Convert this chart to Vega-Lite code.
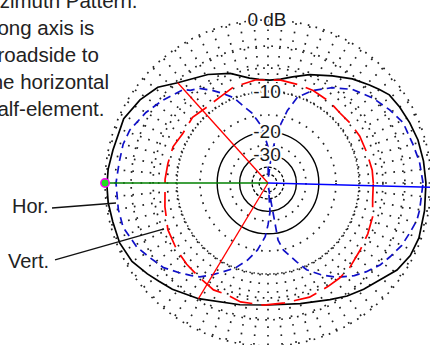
{
  "$schema": "https://vega.github.io/schema/vega-lite/v6.json",
  "width": 430,
  "height": 345,
  "autosize": {"type": "none"},
  "padding": 0,
  "background": "#ffffff",
  "config": {"view": {"stroke": null}, "font": "Liberation Sans"},
  "datasets": {
    "rings_sparse": [{"db": 0}, {"db": -3}, {"db": -6}, {"db": -15}, {"db": -25}],
    "rings_dense": [{"db": -10}],
    "rings_solid": [{"db": -20}, {"db": -30}],
    "rings_inner": [{"db": -40}, {"db": -50}],
    "spokes": [
      {"az": 0}, {"az": 5}, {"az": 10}, {"az": 15}, {"az": 20}, {"az": 25}, {"az": 30}, {"az": 35}, {"az": 40}, {"az": 45}, {"az": 50}, {"az": 55},
      {"az": 60}, {"az": 65}, {"az": 70}, {"az": 75}, {"az": 80}, {"az": 85}, {"az": 90}, {"az": 95}, {"az": 100}, {"az": 105}, {"az": 110}, {"az": 115},
      {"az": 120}, {"az": 125}, {"az": 130}, {"az": 135}, {"az": 140}, {"az": 145}, {"az": 150}, {"az": 155}, {"az": 160}, {"az": 165}, {"az": 170}, {"az": 175},
      {"az": 180}, {"az": 185}, {"az": 190}, {"az": 195}, {"az": 200}, {"az": 205}, {"az": 210}, {"az": 215}, {"az": 220}, {"az": 225}, {"az": 230}, {"az": 235},
      {"az": 240}, {"az": 245}, {"az": 250}, {"az": 255}, {"az": 260}, {"az": 265}, {"az": 270}, {"az": 275}, {"az": 280}, {"az": 285}, {"az": 290}, {"az": 295},
      {"az": 300}, {"az": 305}, {"az": 310}, {"az": 315}, {"az": 320}, {"az": 325}, {"az": 330}, {"az": 335}, {"az": 340}, {"az": 345}, {"az": 350}, {"az": 355}
    ],
    "total": [
      {"az": 0, "db": -0.54}, {"az": 8, "db": -0.64}, {"az": 16, "db": -0.75}, {"az": 23, "db": -0.97}, {"az": 30, "db": -1.2},
      {"az": 36, "db": -1.43}, {"az": 40, "db": -1.95}, {"az": 44, "db": -2.49}, {"az": 51, "db": -3.36}, {"az": 59, "db": -4.56},
      {"az": 69, "db": -5.84}, {"az": 77, "db": -6.91}, {"az": 83, "db": -7.6}, {"az": 89, "db": -7.88}, {"az": 95, "db": -7.7},
      {"az": 100, "db": -7.3}, {"az": 109, "db": -5.84}, {"az": 119, "db": -4.69}, {"az": 132, "db": -3.24}, {"az": 139, "db": -1.89},
      {"az": 147, "db": -1.13}, {"az": 156, "db": -0.54}, {"az": 168, "db": -0.48}, {"az": 175, "db": -0.27}, {"az": 181, "db": -0.2},
      {"az": 187, "db": -0.21}, {"az": 194, "db": -0.32}, {"az": 202, "db": -0.32}, {"az": 210, "db": -0.64}, {"az": 217, "db": -1.31},
      {"az": 222, "db": -1.8}, {"az": 228, "db": -2.25}, {"az": 239, "db": -3.24}, {"az": 257, "db": -4.56}, {"az": 270, "db": -4.97},
      {"az": 285, "db": -4.56}, {"az": 298, "db": -3.62}, {"az": 305, "db": -2.86}, {"az": 312, "db": -2.25}, {"az": 319, "db": -1.66},
      {"az": 326, "db": -0.8}, {"az": 333, "db": -0.35}, {"az": 340, "db": -0.25}, {"az": 350, "db": -0.43}, {"az": 360, "db": -0.54}
    ],
    "horizontal": [
      {"az": 0, "db": -0.86}, {"az": 8, "db": -1.09}, {"az": 15, "db": -1.43}, {"az": 24, "db": -1.66}, {"az": 31, "db": -2.37},
      {"az": 39, "db": -3.24}, {"az": 48, "db": -4.42}, {"az": 56, "db": -5.99}, {"az": 64, "db": -7.88}, {"az": 71, "db": -10.0},
      {"az": 75, "db": -13.3}, {"az": 79, "db": -18.6}, {"az": 83, "db": -29.0}, {"az": 87, "db": -60}, {"az": 90, "db": -25.9},
      {"az": 93.7, "db": -21.7}, {"az": 96, "db": -18.3}, {"az": 100, "db": -16.0}, {"az": 103, "db": -14.0}, {"az": 107, "db": -12.4},
      {"az": 112, "db": -9.8}, {"az": 117, "db": -8.28}, {"az": 121, "db": -7.06}, {"az": 126, "db": -5.69}, {"az": 130, "db": -5.11},
      {"az": 132, "db": -4.42}, {"az": 142, "db": -3.36}, {"az": 150, "db": -2.49}, {"az": 159, "db": -1.66}, {"az": 165, "db": -1.43},
      {"az": 172, "db": -1.4}, {"az": 180, "db": -1.2}, {"az": 190, "db": -1.2}, {"az": 197, "db": -1.26}, {"az": 206, "db": -1.89},
      {"az": 212, "db": -2.61}, {"az": 219, "db": -3.3}, {"az": 225, "db": -4.34}, {"az": 230, "db": -5.17}, {"az": 234, "db": -5.84},
      {"az": 239, "db": -7.23}, {"az": 243, "db": -8.44}, {"az": 249, "db": -10.0}, {"az": 255, "db": -12.2}, {"az": 261, "db": -15.0},
      {"az": 267, "db": -19.0}, {"az": 270, "db": -23.3}, {"az": 274, "db": -29.6}, {"az": 276.5, "db": -60}, {"az": 280, "db": -17.7},
      {"az": 283, "db": -14.75}, {"az": 290, "db": -11.4}, {"az": 294, "db": -9.27}, {"az": 300, "db": -7.39}, {"az": 306, "db": -5.75},
      {"az": 313, "db": -4.34}, {"az": 318, "db": -3.55}, {"az": 324, "db": -2.73}, {"az": 329, "db": -2.28}, {"az": 335, "db": -1.7},
      {"az": 341, "db": -1.37}, {"az": 346, "db": -1.03}, {"az": 350, "db": -0.97}, {"az": 360, "db": -0.86}
    ],
    "vertical": [
      {"az": 0, "db": -7.5}, {"az": 7, "db": -7.55}, {"az": 17, "db": -7.81}, {"az": 27, "db": -7.88}, {"az": 36, "db": -8.11},
      {"az": 44, "db": -8.32}, {"az": 53, "db": -8.05}, {"az": 64, "db": -7.88}, {"az": 72, "db": -7.88}, {"az": 83, "db": -7.76},
      {"az": 97, "db": -7.75}, {"az": 110, "db": -8.05}, {"az": 119, "db": -8.65}, {"az": 129, "db": -8.82}, {"az": 139, "db": -8.39},
      {"az": 150, "db": -8.63}, {"az": 159, "db": -8.11}, {"az": 169, "db": -8.05}, {"az": 178, "db": -7.88}, {"az": 193, "db": -7.42},
      {"az": 205, "db": -6.67}, {"az": 216, "db": -6.29}, {"az": 225, "db": -5.99}, {"az": 234, "db": -5.72}, {"az": 243, "db": -5.26},
      {"az": 250, "db": -5.4}, {"az": 257, "db": -4.97}, {"az": 268, "db": -4.95}, {"az": 278, "db": -5.11}, {"az": 290, "db": -5.04},
      {"az": 300, "db": -5.31}, {"az": 307, "db": -5.4}, {"az": 314, "db": -5.6}, {"az": 324, "db": -6.14}, {"az": 333, "db": -6.44},
      {"az": 342, "db": -6.75}, {"az": 351, "db": -7.39}, {"az": 360, "db": -7.5}
    ],
    "beamwidth": [{"az": 132, "db": -3.24}, {"az": 239, "db": -3.24}],
    "peak": [{"az": 180, "db": 0}],
    "back": [{"az": 358.5, "db": 0}],
    "ring_labels": [
      {"db": 0, "label": "0 dB"},
      {"db": -10, "label": "-10"},
      {"db": -20, "label": "-20"},
      {"db": -30, "label": "-30"}
    ]
  },
  "layer": [
    {
      "data": {"name": "spokes"},
      "transform": [
        {"calculate": "pow(0.89, 5) * cos(datum.az * PI / 180)", "as": "x0"},
        {"calculate": "pow(0.89, 5) * sin(datum.az * PI / 180)", "as": "y0"},
        {"calculate": "cos(datum.az * PI / 180)", "as": "x1"},
        {"calculate": "sin(datum.az * PI / 180)", "as": "y1"}
      ],
      "mark": {"type": "rule", "stroke": "#222222", "strokeWidth": 1.7, "strokeDash": [1.7, 7]},
      "encoding": {
        "x": {"field": "x0", "type": "quantitative", "scale": {"domain": [-1.6442, 0.9939], "nice": false, "zero": false}, "axis": null},
        "y": {"field": "y0", "type": "quantitative", "scale": {"domain": [-0.9939, 1.1227], "nice": false, "zero": false}, "axis": null},
        "x2": {"field": "x1"},
        "y2": {"field": "y1"}
      }
    },
    {
      "data": {"name": "rings_sparse"},
      "transform": [{"calculate": "pow(0.89, -datum.db / 2)", "as": "rel"}, {"calculate": "0", "as": "cx"}, {"calculate": "0", "as": "cy"}],
      "mark": {"type": "point", "shape": "circle", "filled": false, "opacity": 1, "stroke": "#222222", "strokeWidth": 1.7, "strokeDash": [1.7, 6.3]},
      "encoding": {
        "x": {"field": "cx", "type": "quantitative", "scale": {"domain": [-1.6442, 0.9939], "nice": false, "zero": false}, "axis": null},
        "y": {"field": "cy", "type": "quantitative", "scale": {"domain": [-0.9939, 1.1227], "nice": false, "zero": false}, "axis": null},
        "size": {"field": "rel", "type": "quantitative", "scale": {"type": "pow", "exponent": 2, "domain": [0, 1], "range": [0, 106276]}, "legend": null}
      }
    },
    {
      "data": {"name": "rings_dense"},
      "transform": [{"calculate": "pow(0.89, -datum.db / 2)", "as": "rel"}, {"calculate": "0", "as": "cx"}, {"calculate": "0", "as": "cy"}],
      "mark": {"type": "point", "shape": "circle", "filled": false, "opacity": 1, "stroke": "#222222", "strokeWidth": 1.5, "strokeDash": [1.5, 2.5]},
      "encoding": {
        "x": {"field": "cx", "type": "quantitative", "scale": {"domain": [-1.6442, 0.9939], "nice": false, "zero": false}, "axis": null},
        "y": {"field": "cy", "type": "quantitative", "scale": {"domain": [-0.9939, 1.1227], "nice": false, "zero": false}, "axis": null},
        "size": {"field": "rel", "type": "quantitative", "scale": {"type": "pow", "exponent": 2, "domain": [0, 1], "range": [0, 106276]}, "legend": null}
      }
    },
    {
      "data": {"name": "rings_solid"},
      "transform": [{"calculate": "pow(0.89, -datum.db / 2)", "as": "rel"}, {"calculate": "0", "as": "cx"}, {"calculate": "0", "as": "cy"}],
      "mark": {"type": "point", "shape": "circle", "filled": false, "opacity": 1, "stroke": "#000000", "strokeWidth": 1.4},
      "encoding": {
        "x": {"field": "cx", "type": "quantitative", "scale": {"domain": [-1.6442, 0.9939], "nice": false, "zero": false}, "axis": null},
        "y": {"field": "cy", "type": "quantitative", "scale": {"domain": [-0.9939, 1.1227], "nice": false, "zero": false}, "axis": null},
        "size": {"field": "rel", "type": "quantitative", "scale": {"type": "pow", "exponent": 2, "domain": [0, 1], "range": [0, 106276]}, "legend": null}
      }
    },
    {
      "data": {"name": "rings_inner"},
      "transform": [{"calculate": "pow(0.89, -datum.db / 2)", "as": "rel"}, {"calculate": "0", "as": "cx"}, {"calculate": "0", "as": "cy"}],
      "mark": {"type": "point", "shape": "circle", "filled": false, "opacity": 1, "stroke": "#000000", "strokeWidth": 1.3, "strokeDash": [3, 2]},
      "encoding": {
        "x": {"field": "cx", "type": "quantitative", "scale": {"domain": [-1.6442, 0.9939], "nice": false, "zero": false}, "axis": null},
        "y": {"field": "cy", "type": "quantitative", "scale": {"domain": [-0.9939, 1.1227], "nice": false, "zero": false}, "axis": null},
        "size": {"field": "rel", "type": "quantitative", "scale": {"type": "pow", "exponent": 2, "domain": [0, 1], "range": [0, 106276]}, "legend": null}
      }
    },
    {
      "data": {"name": "total"},
      "transform": [
        {"calculate": "pow(0.89, -datum.db / 2)", "as": "rel"},
        {"calculate": "datum.rel * cos(datum.az * PI / 180)", "as": "px"},
        {"calculate": "datum.rel * sin(datum.az * PI / 180)", "as": "py"}
      ],
      "mark": {"type": "line", "stroke": "#000000", "strokeWidth": 1.7, "interpolate": "linear"},
      "encoding": {
        "x": {"field": "px", "type": "quantitative", "scale": {"domain": [-1.6442, 0.9939], "nice": false, "zero": false}, "axis": null},
        "y": {"field": "py", "type": "quantitative", "scale": {"domain": [-0.9939, 1.1227], "nice": false, "zero": false}, "axis": null},
        "order": {"field": "az", "type": "quantitative"}
      }
    },
    {
      "data": {"name": "horizontal"},
      "transform": [
        {"calculate": "pow(0.89, -datum.db / 2)", "as": "rel"},
        {"calculate": "datum.rel * cos(datum.az * PI / 180)", "as": "px"},
        {"calculate": "datum.rel * sin(datum.az * PI / 180)", "as": "py"}
      ],
      "mark": {"type": "line", "stroke": "#1010c8", "strokeWidth": 1.7, "strokeDash": [8, 5], "interpolate": "linear"},
      "encoding": {
        "x": {"field": "px", "type": "quantitative", "scale": {"domain": [-1.6442, 0.9939], "nice": false, "zero": false}, "axis": null},
        "y": {"field": "py", "type": "quantitative", "scale": {"domain": [-0.9939, 1.1227], "nice": false, "zero": false}, "axis": null},
        "order": {"field": "az", "type": "quantitative"}
      }
    },
    {
      "data": {"name": "vertical"},
      "transform": [
        {"calculate": "pow(0.89, -datum.db / 2)", "as": "rel"},
        {"calculate": "datum.rel * cos(datum.az * PI / 180)", "as": "px"},
        {"calculate": "datum.rel * sin(datum.az * PI / 180)", "as": "py"}
      ],
      "mark": {"type": "line", "stroke": "#ff0000", "strokeWidth": 1.7, "strokeDash": [24, 9], "interpolate": "linear"},
      "encoding": {
        "x": {"field": "px", "type": "quantitative", "scale": {"domain": [-1.6442, 0.9939], "nice": false, "zero": false}, "axis": null},
        "y": {"field": "py", "type": "quantitative", "scale": {"domain": [-0.9939, 1.1227], "nice": false, "zero": false}, "axis": null},
        "order": {"field": "az", "type": "quantitative"}
      }
    },
    {
      "data": {"name": "beamwidth"},
      "transform": [
        {"calculate": "pow(0.89, -datum.db / 2)", "as": "rel"},
        {"calculate": "datum.rel * cos(datum.az * PI / 180)", "as": "px"},
        {"calculate": "datum.rel * sin(datum.az * PI / 180)", "as": "py"},
        {"calculate": "0", "as": "cx"}, {"calculate": "0", "as": "cy"}
      ],
      "mark": {"type": "rule", "stroke": "#ff0000", "strokeWidth": 1.3},
      "encoding": {
        "x": {"field": "cx", "type": "quantitative", "scale": {"domain": [-1.6442, 0.9939], "nice": false, "zero": false}, "axis": null},
        "y": {"field": "cy", "type": "quantitative", "scale": {"domain": [-0.9939, 1.1227], "nice": false, "zero": false}, "axis": null},
        "x2": {"field": "px"},
        "y2": {"field": "py"}
      }
    },
    {
      "data": {"name": "back"},
      "transform": [
        {"calculate": "pow(0.89, -datum.db / 2)", "as": "rel"},
        {"calculate": "datum.rel * cos(datum.az * PI / 180)", "as": "px"},
        {"calculate": "datum.rel * sin(datum.az * PI / 180)", "as": "py"},
        {"calculate": "0", "as": "cx"}, {"calculate": "0", "as": "cy"}
      ],
      "mark": {"type": "rule", "stroke": "#0000ff", "strokeWidth": 1.6},
      "encoding": {
        "x": {"field": "cx", "type": "quantitative", "scale": {"domain": [-1.6442, 0.9939], "nice": false, "zero": false}, "axis": null},
        "y": {"field": "cy", "type": "quantitative", "scale": {"domain": [-0.9939, 1.1227], "nice": false, "zero": false}, "axis": null},
        "x2": {"field": "px"},
        "y2": {"field": "py"}
      }
    },
    {
      "data": {"name": "peak"},
      "transform": [
        {"calculate": "pow(0.89, -datum.db / 2)", "as": "rel"},
        {"calculate": "datum.rel * cos(datum.az * PI / 180)", "as": "px"},
        {"calculate": "datum.rel * sin(datum.az * PI / 180)", "as": "py"},
        {"calculate": "0", "as": "cx"}, {"calculate": "0", "as": "cy"}
      ],
      "mark": {"type": "rule", "stroke": "#008000", "strokeWidth": 1.6},
      "encoding": {
        "x": {"field": "cx", "type": "quantitative", "scale": {"domain": [-1.6442, 0.9939], "nice": false, "zero": false}, "axis": null},
        "y": {"field": "cy", "type": "quantitative", "scale": {"domain": [-0.9939, 1.1227], "nice": false, "zero": false}, "axis": null},
        "x2": {"field": "px"},
        "y2": {"field": "py"}
      }
    },
    {
      "data": {"name": "peak"},
      "transform": [
        {"calculate": "pow(0.89, -datum.db / 2)", "as": "rel"},
        {"calculate": "datum.rel * cos(datum.az * PI / 180)", "as": "px"},
        {"calculate": "datum.rel * sin(datum.az * PI / 180)", "as": "py"}
      ],
      "mark": {"type": "point", "shape": "circle", "filled": true, "opacity": 1, "fill": "#22dd22", "stroke": "#ff00ff", "strokeWidth": 1.5, "size": 70},
      "encoding": {
        "x": {"field": "px", "type": "quantitative", "scale": {"domain": [-1.6442, 0.9939], "nice": false, "zero": false}, "axis": null},
        "y": {"field": "py", "type": "quantitative", "scale": {"domain": [-0.9939, 1.1227], "nice": false, "zero": false}, "axis": null}
      }
    },
    {
      "data": {"values": [{"label": "Hor."}, {"label": "Vert."}]},
      "transform": [
        {"calculate": "datum.label == 'Hor.' ? -1.3252 : -1.3067", "as": "lx0"},
        {"calculate": "datum.label == 'Hor.' ? -0.1534 : -0.4724", "as": "ly0"},
        {"calculate": "datum.label == 'Hor.' ? -0.9325 : -0.638", "as": "lx1"},
        {"calculate": "datum.label == 'Hor.' ? -0.1227 : -0.2822", "as": "ly1"}
      ],
      "mark": {"type": "rule", "stroke": "#111111", "strokeWidth": 1.3},
      "encoding": {
        "x": {"field": "lx0", "type": "quantitative", "scale": {"domain": [-1.6442, 0.9939], "nice": false, "zero": false}, "axis": null},
        "y": {"field": "ly0", "type": "quantitative", "scale": {"domain": [-0.9939, 1.1227], "nice": false, "zero": false}, "axis": null},
        "x2": {"field": "lx1"},
        "y2": {"field": "ly1"}
      }
    },
    {
      "data": {"values": [{"label": "Hor."}, {"label": "Vert."}]},
      "transform": [
        {"calculate": "datum.label == 'Hor.' ? -1.5706 : -1.5951", "as": "tx"},
        {"calculate": "datum.label == 'Hor.' ? -0.1472 : -0.4847", "as": "ty"}
      ],
      "mark": {"type": "text", "fontSize": 20, "align": "left", "baseline": "middle", "fill": "#222222"},
      "encoding": {
        "x": {"field": "tx", "type": "quantitative", "scale": {"domain": [-1.6442, 0.9939], "nice": false, "zero": false}, "axis": null},
        "y": {"field": "ty", "type": "quantitative", "scale": {"domain": [-0.9939, 1.1227], "nice": false, "zero": false}, "axis": null},
        "text": {"field": "label", "type": "nominal"}
      }
    },
    {
      "data": {"name": "ring_labels"},
      "transform": [{"calculate": "pow(0.89, -datum.db / 2)", "as": "rel"}, {"calculate": "0", "as": "cx"}],
      "mark": {"type": "text", "fontSize": 19, "align": "center", "baseline": "middle", "dx": -1, "stroke": "#ffffff", "strokeWidth": 4, "strokeJoin": "round", "fill": "#ffffff"},
      "encoding": {
        "x": {"field": "cx", "type": "quantitative", "scale": {"domain": [-1.6442, 0.9939], "nice": false, "zero": false}, "axis": null},
        "y": {"field": "rel", "type": "quantitative", "scale": {"domain": [-0.9939, 1.1227], "nice": false, "zero": false}, "axis": null},
        "text": {"field": "label", "type": "nominal"}
      }
    },
    {
      "data": {"name": "ring_labels"},
      "transform": [{"calculate": "pow(0.89, -datum.db / 2)", "as": "rel"}, {"calculate": "0", "as": "cx"}],
      "mark": {"type": "text", "fontSize": 19, "align": "center", "baseline": "middle", "dx": -1, "fill": "#1a1a1a"},
      "encoding": {
        "x": {"field": "cx", "type": "quantitative", "scale": {"domain": [-1.6442, 0.9939], "nice": false, "zero": false}, "axis": null},
        "y": {"field": "rel", "type": "quantitative", "scale": {"domain": [-0.9939, 1.1227], "nice": false, "zero": false}, "axis": null},
        "text": {"field": "label", "type": "nominal"}
      }
    },
    {
      "data": {"values": [{"caption": "Azimuth Pattern.|Long axis is|broadside to|the horizontal|half-element."}]},
      "transform": [
        {"calculate": "split(datum.caption, '|')", "as": "lines"},
        {"calculate": "-1.7301", "as": "tx"},
        {"calculate": "1.0736", "as": "ty"}
      ],
      "mark": {"type": "text", "fontSize": 20.5, "align": "left", "baseline": "alphabetic", "lineHeight": 27, "fill": "#222222"},
      "encoding": {
        "x": {"field": "tx", "type": "quantitative", "scale": {"domain": [-1.6442, 0.9939], "nice": false, "zero": false}, "axis": null},
        "y": {"field": "ty", "type": "quantitative", "scale": {"domain": [-0.9939, 1.1227], "nice": false, "zero": false}, "axis": null},
        "text": {"field": "lines", "type": "nominal"}
      }
    }
  ]
}
